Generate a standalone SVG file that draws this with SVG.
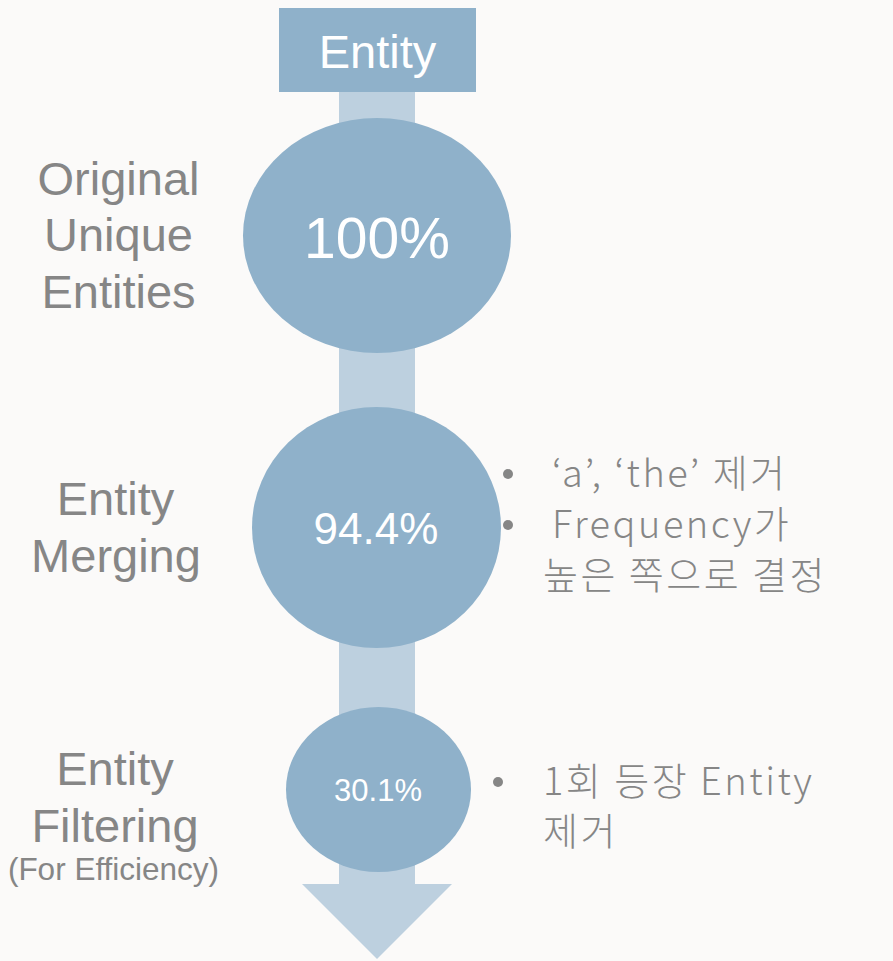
<svg xmlns="http://www.w3.org/2000/svg" width="893" height="961" viewBox="0 0 893 961">
  <style>
    .stage { fill: #8fb1ca; }
    .flow { fill: #bdd0df; }
    .pct { fill: #ffffff; font-family: "Liberation Sans", Arial, sans-serif; text-anchor: middle; }
    .label { fill: #868686; font-family: "Liberation Sans", Arial, sans-serif; font-size: 47px; text-anchor: middle; }
    .label.small { font-size: 31.5px; }
    .note { fill: #868686; font-family: "Noto Sans CJK KR", "Noto Sans", sans-serif; font-size: 38px; font-weight: 300; letter-spacing: 2.5px; }
    .dot { fill: #868686; }
  </style>
  <rect width="893" height="961" fill="#fbfaf9"/>

  <!-- downward flow arrow behind the stages -->
  <g id="connectors">
    <rect class="flow" x="339" y="92" width="76" height="793"/>
    <polygon class="flow" points="302,884 452,884 377,959"/>
  </g>

  <g id="header">
    <rect class="stage" x="279" y="8" width="197" height="84"/>
    <text class="pct" x="377.5" y="68" font-size="47">Entity</text>
  </g>

  <g id="stage-original">
    <ellipse class="stage" cx="377" cy="235.5" rx="134" ry="117.5"/>
    <text class="pct" x="377" y="258" font-size="57">100%</text>
    <text class="label" x="118.5" y="195">Original</text>
    <text class="label" x="118.5" y="251">Unique</text>
    <text class="label" x="118.5" y="308">Entities</text>
  </g>

  <g id="stage-merging">
    <ellipse class="stage" cx="376.5" cy="527.5" rx="124.5" ry="120.5"/>
    <text class="pct" x="376" y="544" font-size="44">94.4%</text>
    <text class="label" x="115.5" y="515">Entity</text>
    <text class="label" x="116" y="572">Merging</text>
    <circle class="dot" cx="508" cy="474" r="5"/>
    <circle class="dot" cx="508" cy="525" r="5"/>
    <text class="note" x="552" y="487">‘a’, ‘the’ 제거</text>
    <text class="note" x="552" y="538">Frequency가</text>
    <text class="note" x="543" y="589">높은 쪽으로 결정</text>
  </g>

  <g id="stage-filtering">
    <ellipse class="stage" cx="378.5" cy="789.5" rx="92.5" ry="82.5"/>
    <text class="pct" x="378" y="801" font-size="31">30.1%</text>
    <text class="label" x="115" y="785">Entity</text>
    <text class="label" x="115" y="842">Filtering</text>
    <text class="label small" x="113.5" y="880">(For Efficiency)</text>
    <circle class="dot" cx="498" cy="782" r="5"/>
    <text class="note" x="543" y="795">1회 등장 Entity</text>
    <text class="note" x="543" y="845">제거</text>
  </g>
</svg>
